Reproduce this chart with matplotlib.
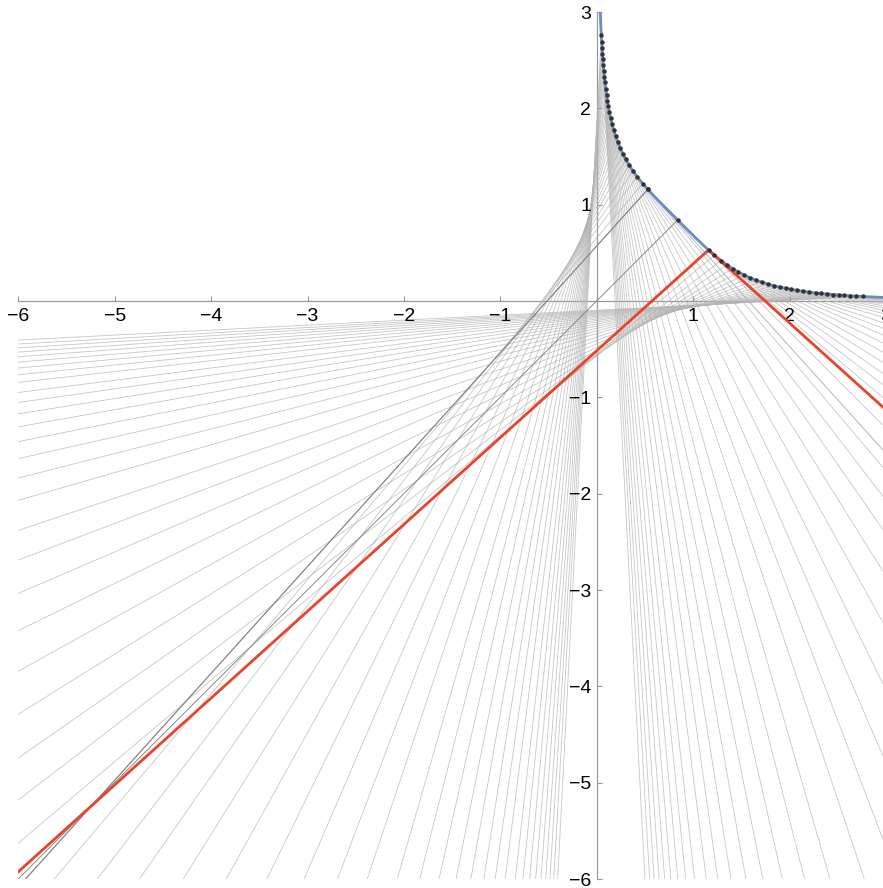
import numpy as np
import matplotlib.pyplot as plt
from matplotlib.collections import LineCollection

# curve: x*y*(x^2 + y^2) = 1, sample points on both branches
grid = [1.16, 1.22, 1.29, 1.35, 1.41, 1.47, 1.53, 1.59, 1.65, 1.71, 1.78, 1.84,
        1.90, 1.96, 2.02, 2.08, 2.14, 2.20, 2.27, 2.33, 2.39, 2.45, 2.51, 2.57,
        2.63, 2.69, 2.76]
diag = 0.84
red_x = 1.16
xticks = [-6, -5, -4, -3, -2, -1, 1, 2, 3]
yticks = [-6, -5, -4, -3, -2, -1, 1, 2, 3]


def curve_y(x):
    r = np.roots([x, 0, x ** 3, -1])
    r = r[np.abs(r.imag) < 1e-9].real
    return r[r > 0][0]


def slope(x, y):
    return -(3 * x ** 2 * y + y ** 3) / (x ** 3 + 3 * x * y ** 2)


pts = [(x, curve_y(x)) for x in grid] + [(curve_y(v), v) for v in grid]
mid = [(diag, curve_y(diag)), (curve_y(red_x), red_x)]

fig = plt.figure(figsize=(8.83, 8.88), dpi=100)
ax = fig.add_axes([18.3 / 883, 9 / 888, 867.6 / 883, 866.9 / 888])
ax.set_xlim(-6, 3)
ax.set_ylim(-6, 3)

T = 40
light, dark = [], []
for x0, y0 in pts + mid:
    m = slope(x0, y0)
    light.append([(x0, y0), (x0 + T, y0 + m * T)])
    if (x0, y0) in mid:
        dark.append([(x0, y0), (x0 - T, y0 + m * T)])
    else:
        light.append([(x0, y0), (x0 - T, y0 + m * T)])

ax.add_collection(LineCollection(light, colors='#b4b4b4', linewidths=0.6, alpha=0.75, zorder=1))
ax.add_collection(LineCollection(dark, colors='#8a8a8a', linewidths=0.7, zorder=1))

# red pair at one sample point
ry = curve_y(red_x)
rm = slope(red_x, ry)
ax.plot([red_x - T, red_x, red_x + T], [ry + rm * T, ry, ry + rm * T],
        color='#e8432b', lw=2.0, zorder=3)

th = np.linspace(0.001, np.pi / 2 - 0.001, 3000)
r = (2 / np.sin(2 * th)) ** 0.25
ax.plot(r * np.cos(th), r * np.sin(th), color='#6a8cc2', lw=2.0, zorder=2)

allp = np.array(pts + mid)
ax.plot(allp[:, 0], allp[:, 1], 'o', color='#333333', ms=2.2, zorder=4)

for s in ['top', 'right']:
    ax.spines[s].set_visible(False)
ax.spines['left'].set_position(('data', 0))
ax.spines['bottom'].set_position(('data', 0))
for s in ['left', 'bottom']:
    ax.spines[s].set_color('#999999')
    ax.spines[s].set_linewidth(0.9)
    ax.spines[s].set_zorder(0.5)

ax.set_xticks(xticks)
ax.set_yticks(yticks)
ax.tick_params(direction='in', length=3.5, width=0.8, color='#999999',
               labelsize=14, labelcolor='black')
ax.tick_params(axis='x', pad=5)
ax.tick_params(axis='y', pad=4)
for lab in ax.get_xticklabels() + ax.get_yticklabels():
    lab.set_family(['Liberation Sans', 'DejaVu Sans'])
ax.patch.set_visible(False)

fig.savefig('out.png', dpi=100)
